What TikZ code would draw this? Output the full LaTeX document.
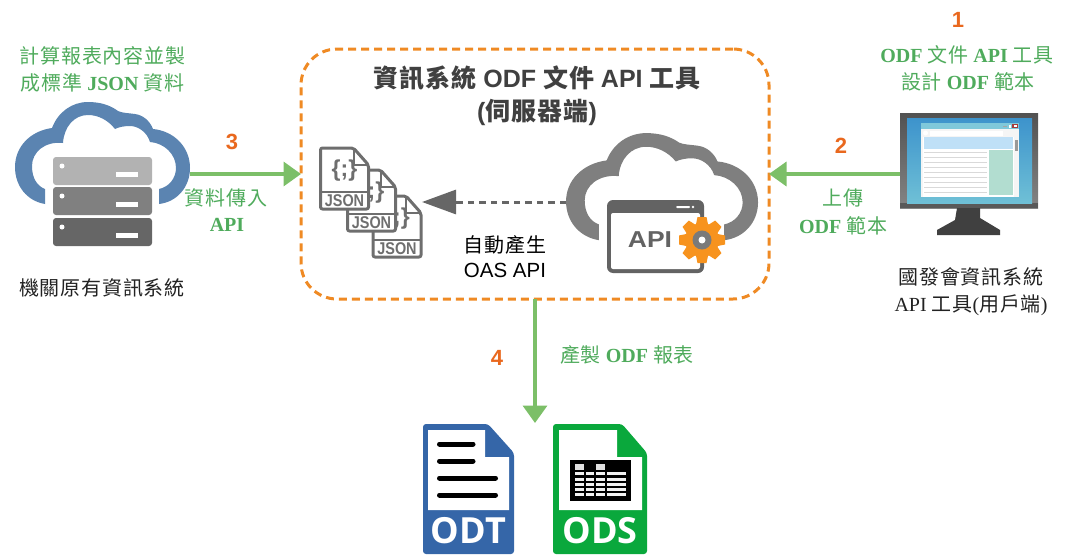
\documentclass[tikz,border=0pt]{standalone}
\usepackage{fontspec}
\setmainfont{Liberation Serif}
\setsansfont{Liberation Sans}
\newfontfamily\cjk[LetterSpace=4]{Noto Sans CJK TC}
\newcommand\cj[1]{{\cjk\mdseries #1}}
\newcommand\cjt[1]{{\cjk\bfseries #1}}
\newfontfamily\odfont{Open Sans}
\usetikzlibrary{arrows.meta}
\definecolor{grn}{HTML}{4FAB5C}
\definecolor{arr}{HTML}{7CBF68}
\definecolor{num}{HTML}{E9681E}
\definecolor{dash}{HTML}{EF8A24}
\definecolor{blu}{HTML}{5B84B1}
\definecolor{gry}{HTML}{7F7F7F}
\definecolor{docg}{HTML}{6E6E6E}
\definecolor{dgr}{HTML}{404040}
\definecolor{win}{HTML}{636363}
\definecolor{gear}{HTML}{F7931E}
\definecolor{odtb}{HTML}{3566A8}
\definecolor{odsg}{HTML}{0AA83C}
\definecolor{txtg}{HTML}{222222}
\definecolor{scrtop}{HTML}{3D93CC}
\definecolor{scrbot}{HTML}{6FC0D6}
\definecolor{wintitle}{HTML}{7FC8DA}
\definecolor{band}{HTML}{BFE0F7}
\definecolor{panel}{HTML}{B2DDD0}
\definecolor{closebtn}{HTML}{A83A3A}
\newcommand\fs[1]{\fontsize{#1}{#1}\selectfont}
\newcommand\cloudshape{%
  (45,204) .. controls (27,201) and (15,186) .. (15,167)
  .. controls (15,147) and (30,131) .. (52,128)
  .. controls (58,112) and (72,102) .. (88,102)
  .. controls (100,102) and (110,105) .. (118,111)
  .. controls (122,113) and (128,113) .. (135,114)
  .. controls (143,115) and (150,121) .. (153,129)
  .. controls (174,131) and (190,147) .. (190,168)
  .. controls (190,187) and (177,202) .. (159,204)
  -- (159,189)
  .. controls (169,187) and (176,178) .. (176,168)
  .. controls (176,154) and (164,143) .. (150,142)
  .. controls (147,132) and (138,126) .. (130,126)
  .. controls (124,126) and (119,127) .. (115,129)
  .. controls (108,120) and (98,115) .. (88,115)
  .. controls (74,115) and (64,127) .. (63,143)
  .. controls (45,141) and (32,152) .. (32,166)
  .. controls (32,178) and (37,186) .. (45,189) -- cycle}
\newcommand\jsondoc[2]{%
  \begin{scope}[shift={(#1,#2)}]
    \draw[docg,line width=3pt,fill=white,line join=round,rounded corners=2pt]
      (0,0) -- (33,0) -- (48,17) -- (48,61) -- (0,61) -- cycle;
    \draw[docg,line width=2pt,line join=round] (33,0) -- (33,17) -- (48,17);
    \draw[docg,line width=2.4pt] (0,44) -- (48,44);
    \node[font=\sffamily\bfseries\fs{23},text=docg,inner sep=0pt] at (24,23) {\{;\}};
    \node[font=\sffamily\bfseries\fs{17},text=docg,inner sep=0pt] at (24,53) {\scalebox{.85}[1]{JSON}};
  \end{scope}}
\newcommand\srvrow[2]{%
  \fill[#2,rounded corners=3pt] (53,#1) rectangle (152,#1+28);
  \fill[white] (62,#1+9) circle (2.5);
  \fill[white] (116,#1+15) rectangle (138,#1+20);}
\tikzset{
  anchorbox/.style={inner sep=0pt,outer sep=0pt},
  greenlabel/.style={text=grn,align=center,inner sep=0pt,font=\bfseries\fs{20}},
  blacklabel/.style={text=txtg,align=center,inner sep=0pt,font=\fs{20}},
  numlabel/.style={text=num,inner sep=0pt,font=\sffamily\bfseries\fs{22}},
  flow/.style={arr,line width=3.6pt,-{Triangle[length=17.5pt,width=24pt]}},
  autoflow/.style={black!60,line width=3pt,dash pattern=on 6.5pt off 5pt,-{Triangle[length=34pt,width=24pt]}},
}
\begin{document}
\begin{tikzpicture}[x=1pt,y=-1pt]
\useasboundingbox (0,0) rectangle (1070,554);

% anchor nodes
\node[anchorbox,minimum width=175pt,minimum height=100pt] (blue) at (102.5,174) {};
\node[anchorbox,minimum width=138pt,minimum height=95pt] (mon) at (969,174) {};
\node[draw=dash,line width=3pt,dash pattern=on 8pt off 5pt,rounded corners=36pt,
  minimum width=468pt,minimum height=250pt,anchorbox] (box) at (535,174) {};
\node[anchorbox,minimum width=192pt,minimum height=20pt] (gcloud) at (662,202) {};
\node[anchorbox,minimum width=103pt,minimum height=20pt] (jsons) at (370.5,202) {};
\coordinate (files) at (535,423);

% blue cloud + servers
\fill[blu] \cloudshape;
\srvrow{157}{black!30}
\srvrow{187}{black!50}
\srvrow{218}{black!60}

% gray cloud
\begin{scope}[shift={(549.6,26)},xscale=1.097,yscale=1.05]
  \fill[gry] \cloudshape;
\end{scope}

% API window
\fill[white] (603,196) rectangle (708,277);
\fill[win,rounded corners=6pt] (607,200) rectangle (704,273);
\fill[white,rounded corners=2pt] (611,213) rectangle (700,269);
\fill[white,rounded corners=1pt] (676,206) rectangle (690,208);
\fill[white] (693,207) circle (1.3);
\node[anchorbox,text=win,font=\sffamily\bfseries\fs{23}] (apit) at (650,240) {\scalebox{1.15}[1]{API}};

% gear
\foreach \a in {0,45,...,315}{
  \fill[gear,rotate around={\a:(702,240)}] (697.5,217) -- (706.5,217) -- (709,229) -- (695,229) -- cycle;
}
\fill[gear] (702,240) circle (17);
\fill[win!85] (702,240) circle (9.5);
\fill[white] (702,240) circle (3.5);

% JSON docs
\jsondoc{373}{196}
\jsondoc{347.5}{170}
\jsondoc{320.5}{148}

% monitor
\shade[top color=black!68,bottom color=black!48] (900,113) rectangle (1038,208);
\fill[black!65] (900,203) rectangle (1038,208);
\shade[top color=scrtop,bottom color=scrbot] (907,118) rectangle (1032,203);
\fill[black!4] (921,123) rectangle (1019,197);
\fill[wintitle] (921,123) rectangle (1019,129);
\fill[white] (930,130.5) rectangle (1003,135.5);
\fill[white] (925.5,133) circle (2.5);
\fill[black!35] (1003,126) rectangle (1007,127);
\fill[white] (1009,124.5) rectangle (1011,127.5);
\fill[closebtn] (1012,124) rectangle (1018,128);
\fill[white] (1013.5,125) rectangle (1016.5,127);
\fill[white] (923,137) rectangle (1014,197);
\fill[band] (924,137) rectangle (1013,149);
\foreach \yy in {152,157,162,167,172,177,182,187,192}{
  \fill[black!15] (924,\yy) rectangle (987,\yy+1.4);
}
\fill[panel] (989,150) rectangle (1013,195);
\fill[black!40] (1015,140) rectangle (1018,151);
\fill[black!75] (957,208) -- (980,208) -- (980,218) -- (1000,230) -- (1000,235)
  -- (937,235) -- (937,230) -- (955,220) -- cycle;

% ODT
\fill[odtb,rounded corners=3pt] (423,424) -- (488,424) -- (514,453) -- (514,554) -- (423,554) -- cycle;
\fill[white] (428,430) -- (485,430) -- (485,457) -- (509,457) -- (509,510) -- (428,510) -- cycle;
\foreach \yy/\xe in {444/473,461/473,478/495.5,495/495.5}{
  \draw[black,line width=5pt,line cap=round] (439.5,\yy) -- (\xe,\yy);
}
\node[anchorbox,text=white,font=\odfont\bfseries\fs{36}] (odt) at (468.5,531) {ODT};

% ODS
\fill[odsg,rounded corners=3pt] (553,424) -- (622,424) -- (647,453) -- (647,554) -- (553,554) -- cycle;
\fill[white] (559,430) -- (617,430) -- (617,457) -- (642,457) -- (642,510) -- (559,510) -- cycle;
\fill[black] (570,460) rectangle (631,501);
\foreach \xa/\xb in {575/584,596/605}{ \fill[black!12] (\xa,464) rectangle (\xb,469.5); }
\foreach \xa/\xb in {575/584,586/594,596/605,607/626}{
  \foreach \yy in {472,477.5,483,488,493}{
    \fill[black!5] (\xa,\yy) rectangle (\xb,\yy+3.4);
  }
}
\node[anchorbox,text=white,font=\odfont\bfseries\fs{36}] (ods) at (600,531) {ODS};

% connectors
\draw[flow] (blue.east) -- (box.west);
\draw[flow] (mon.west) -- (box.east);
\draw[flow] (box.south) -- (files);
\draw[autoflow] (gcloud.west) -- (jsons.east);

% numbers
\node[numlabel] (n1) at (958,20) {1};
\node[numlabel] (n2) at (841,146) {2};
\node[numlabel] (n3) at (232,142) {3};
\node[numlabel] (n4) at (497,358) {4};

% labels
\node[greenlabel] (t1a) at (102.5,56) {\cj{計算報表內容並製}};
\node[greenlabel] (t1b) at (102.5,83) {\cj{成標準} JSON \cj{資料}};
\node[blacklabel] (t2) at (102,288) {\cj{機關原有資訊系統}};
\node[greenlabel] (t3a) at (226,198) {\cj{資料傳入}};
\node[greenlabel] (t3b) at (227,225) {API};
\node[text=dgr,inner sep=0pt,font=\sffamily\bfseries\fs{25}] (t4) at (537,78) {\cjt{資訊系統} ODF \cjt{文件} API \cjt{工具}};
\node[text=dgr,inner sep=0pt,font=\sffamily\bfseries\fs{25}] (t5) at (537,112) {(\cjt{伺服器端})};
\node[text=black,inner sep=0pt,font=\fs{20}] (t6) at (505,245) {\cj{自動產生}};
\node[text=black,inner sep=0pt,font=\sffamily\fs{20.5}] (t7) at (505,270) {OAS API};
\node[greenlabel] (t8a) at (843,198) {\cj{上傳}};
\node[greenlabel] (t8b) at (843,226) {ODF \cj{範本}};
\node[greenlabel] (t9a) at (967,55) {ODF \cj{文件} API \cj{工具}};
\node[greenlabel] (t9b) at (968,82) {\cj{設計} ODF \cj{範本}};
\node[blacklabel] (t10a) at (971,277) {\cj{國發會資訊系統}};
\node[blacklabel] (t10b) at (971,305) {API \cj{工具}(\cj{用戶端})};
\node[greenlabel] (t11) at (627,355) {\cj{產製} ODF \cj{報表}};
\end{tikzpicture}
\end{document}
